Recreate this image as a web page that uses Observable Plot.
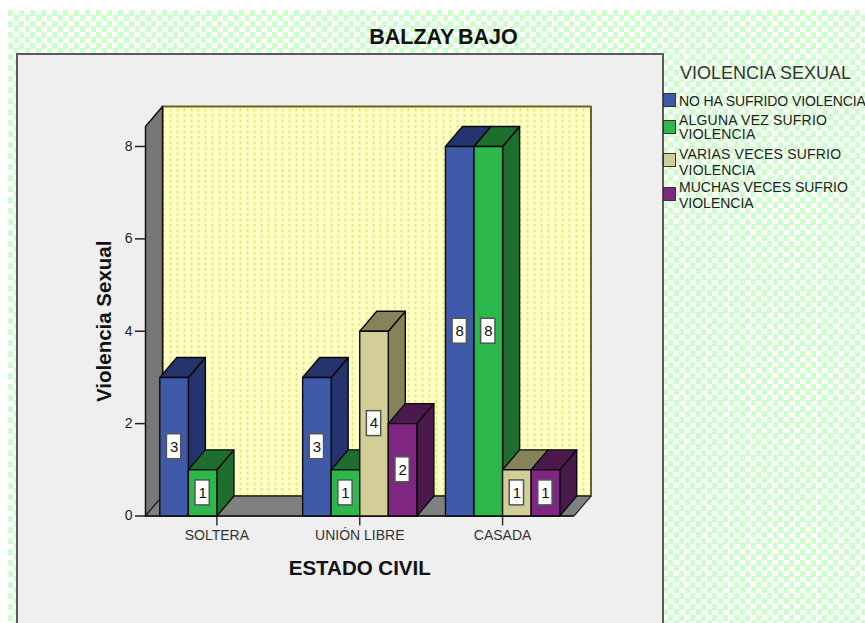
<!DOCTYPE html>
<html><head><meta charset="utf-8">
<script src="https://cdn.jsdelivr.net/npm/d3@7"></script>
<script src="https://cdn.jsdelivr.net/npm/@observablehq/plot@0.6"></script>
<style>
html,body{margin:0;padding:0;background:#fff;}
body{width:865px;height:623px;overflow:hidden;position:relative;font-family:"Liberation Sans",Arial,sans-serif;}
#bg{position:absolute;left:8px;top:10px;right:0;bottom:0;
 background:conic-gradient(#fff 25%,#ccffcc 0 50%,#fff 0 75%,#ccffcc 0);background-size:11px 11px;}
#panel{position:absolute;left:16px;top:53px;width:644px;height:600px;background:#efefef;border:2px solid #5a5a5a;}
#title{position:absolute;left:16px;width:855px;top:24px;text-align:center;font-weight:bold;font-size:21.5px;line-height:26px;color:#111;word-spacing:-2px;}
#chart{position:absolute;left:0;top:0;}
#chart svg{background:transparent;display:block;}
#legendTitle{position:absolute;left:680px;top:62px;font-size:18px;line-height:22px;color:#333;white-space:nowrap;}
.sw{position:absolute;left:663px;width:11px;height:12px;border:1.5px solid #333;}
.lg{position:absolute;left:679px;font-size:14px;color:#222;white-space:pre;}
</style></head>
<body>
<div id="bg"></div><div id="panel"></div>
<div id="title"></div>
<div id="chart"></div>
<div id="legendTitle"></div>
<div id="legend"></div>
<script>
const chartTitle = "BALZAY BAJO";
const xTitle = "ESTADO CIVIL";
const yTitle = "Violencia Sexual";
const legendTitle = "VIOLENCIA SEXUAL";
const categories = ["SOLTERA", "UNIÓN LIBRE", "CASADA"];
const seriesNames = ["NO HA SUFRIDO VIOLENCIA", "ALGUNA VEZ SUFRIO\nVIOLENCIA", "VARIAS VECES SUFRIO\nVIOLENCIA", "MUCHAS VECES SUFRIO\nVIOLENCIA"];
const noHaSufrido = [3, 3, 8];
const algunaVez = [1, 1, 8];
const variasVeces = [0, 4, 1];
const muchasVeces = [0, 2, 1];
const yTicks = [0, 2, 4, 6, 8];
const frontColors = ["#3e5aa8", "#2db84b", "#d3ce97", "#7e2681"];
const shadeColors = ["#25346c", "#1e6e2d", "#868259", "#4a1a4d"];
const legendTops = [93, 120, 153, 187];
const labelTops = [94, 113, 146, 179];
const labelLines = [14, 14, 16, 16];
const labelTracking = ["-0.1px", "0.2px", "0.2px", "0"];

const series = [noHaSufrido, algunaVez, variasVeces, muchasVeces];
const slotsPerGroup = 5, nSlots = categories.length * slotsPerGroup;
const depthX = 0.595, depthY = 0.4324, wallTop = 8 + depthY;

// Bars, left to right, so that later faces cover earlier ones
const faces = [], labels = [];
categories.forEach((cat, c) => series.forEach((vals, s) => {
  const v = vals[c];
  if (!v) return;
  const x0 = slotsPerGroup * c + 0.5 + s, x1 = x0 + 1;
  const add = (name, fill, pts) => pts.forEach(([x, y]) => faces.push({id: `${c}-${s}-${name}`, fill, x, y}));
  add("side", shadeColors[s], [[x1, 0], [x1 + depthX, depthY], [x1 + depthX, v + depthY], [x1, v]]);
  add("top", shadeColors[s], [[x0, v], [x0 + depthX, v + depthY], [x1 + depthX, v + depthY], [x1, v]]);
  add("front", frontColors[s], [[x0, 0], [x1, 0], [x1, v], [x0, v]]);
  labels.push({x: (x0 + x1) / 2, y: v / 2, v});
}));

const backWall = [[depthX, depthY], [nSlots + depthX, depthY], [nSlots + depthX, wallTop + depthY], [depthX, wallTop + depthY]];
const leftWall = [[0, 0], [depthX, depthY], [depthX, wallTop + depthY], [0, wallTop]];
const floor = [[0, 0], [depthX, depthY], [nSlots + depthX, depthY], [nSlots, 0]];
const poly = pts => pts.map(([x, y]) => ({x, y}));
const area = (pts, o) => Plot.line(poly(pts), {x: "x", y: "y", curve: "linear-closed", ...o});

const chart = Plot.plot({
  width: 865, height: 623,
  marginLeft: 145, marginRight: 291.5, marginTop: 126, marginBottom: 107.5,
  style: {background: "transparent", fontFamily: "'Liberation Sans',Arial,sans-serif"},
  x: {domain: [0, nSlots], axis: null},
  y: {domain: [0, wallTop], axis: null},
  color: {type: "identity"},
  marks: [
    area(backWall, {fill: "url(#wallDots)", stroke: "#66661e", strokeWidth: 2}),
    area(leftWall, {fill: "#777777", stroke: "#111", strokeWidth: 1.5}),
    area(floor, {fill: "#808080", stroke: "#222", strokeWidth: 1.2}),
    Plot.axisY({ticks: yTicks, tickSize: 10, tickPadding: 3, fontSize: 14, label: null, color: "#222", strokeWidth: 1.5}),
    Plot.axisY({ticks: [], label: yTitle, labelAnchor: "center", labelArrow: "none", labelOffset: 49, fontSize: 20.5, fontWeight: "bold", color: "#111"}),
    Plot.axisX({ticks: [2.5, 7.5, 12.5], tickFormat: d => categories[(d - 2.5) / slotsPerGroup], tickSize: 10, tickPadding: 4, fontSize: 14, label: null, color: "#333", strokeWidth: 1.5}),
    Plot.axisX({ticks: [], label: xTitle, labelAnchor: "center", labelArrow: "none", labelOffset: 59, fontSize: 20.5, fontWeight: "bold", color: "#111"}),
    Plot.ruleY([0], {stroke: "#111", strokeWidth: 1.5}),
    Plot.line(faces, {x: "x", y: "y", z: "id", fill: "fill", stroke: "#0a0a0a", strokeWidth: 1.4, curve: "linear-closed"}),
    Plot.rect(labels, {x1: d => d.x - 0.25, x2: d => d.x + 0.25, y1: d => d.y - 0.27, y2: d => d.y + 0.27, fill: "#fff", stroke: "#555", strokeWidth: 1.5, inset: 0}),
    Plot.text(labels, {x: "x", y: "y", text: d => String(d.v), fontSize: 15, fill: "#111"})
  ]
});
const defs = d3.select(chart).insert("defs", ":first-child");
const pat = defs.append("pattern").attr("id", "wallDots").attr("patternUnits", "userSpaceOnUse")
  .attr("width", 7).attr("height", 5.5).attr("x", 1).attr("y", 108);
pat.append("rect").attr("width", 7).attr("height", 5.5).attr("fill", "#ffffc8");
pat.append("rect").attr("x", 0).attr("y", 0).attr("width", 2).attr("height", 3).attr("fill", "#e8e872");
document.getElementById("chart").append(chart);

document.getElementById("title").textContent = chartTitle;
document.getElementById("legendTitle").textContent = legendTitle;
const lg = d3.select("#legend");
seriesNames.forEach((name, i) => {
  lg.append("div").attr("class", "sw").style("top", legendTops[i] + "px").style("background", frontColors[i]);
  lg.append("div").attr("class", "lg").style("top", labelTops[i] + "px").style("line-height", labelLines[i] + "px").style("letter-spacing", labelTracking[i]).text(name);
});
</script>
</body></html>
